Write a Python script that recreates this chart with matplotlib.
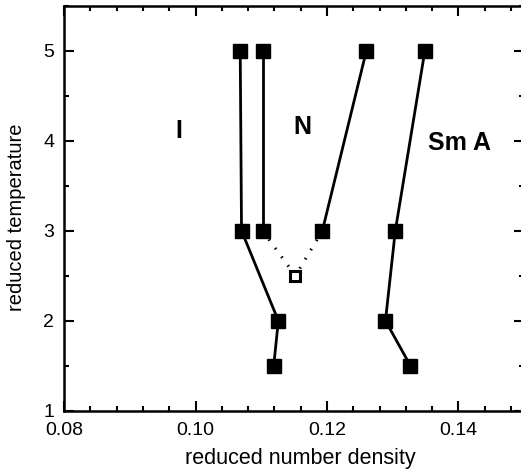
import matplotlib.pyplot as plt
from matplotlib.ticker import MultipleLocator

plt.rcParams['font.family'] = ['Liberation Sans', 'DejaVu Sans']

# phase boundaries: reduced number density vs reduced temperature
left_x = [0.1068, 0.1070, 0.1126, 0.1119]
left_y = [5, 3, 2, 1.5]

mid_x = [0.1102, 0.1102]
mid_y = [5, 3]

right_n_x = [0.1260, 0.1193]
right_n_y = [5, 3]

sma_x = [0.1349, 0.1304, 0.1289, 0.1327]
sma_y = [5, 3, 2, 1.5]

# dotted branch through the open point
dot_x = [0.1102, 0.1152, 0.1193]
dot_y = [3, 2.5, 3]

labels = ['I', 'N', 'Sm A']
label_x = [0.0975, 0.1162, 0.1402]
label_y = [4.11, 4.15, 3.97]

fig = plt.figure(figsize=(5.21, 4.70), dpi=100)
ax = fig.add_axes([0.123, 0.126, 0.883, 0.862])

ax.plot(dot_x, dot_y, color='black', lw=2.2, ls=(0, (0.5, 3.0)), zorder=1)
ax.plot([dot_x[1]], [dot_y[1]], 's', ms=7, mfc='white', mec='black', mew=2.2, zorder=3)

for xs, ys in [(left_x, left_y), (mid_x, mid_y), (right_n_x, right_n_y), (sma_x, sma_y)]:
    ax.plot(xs, ys, '-s', color='black', lw=2, ms=9.5, zorder=2)

for t, x, y in zip(labels, label_x, label_y):
    ax.text(x, y, t, fontsize=18, fontweight='bold', ha='center', va='center')

ax.set_xlim(0.08, 0.15)
ax.set_ylim(1, 5.5)
ax.xaxis.set_major_locator(MultipleLocator(0.02))
ax.xaxis.set_minor_locator(MultipleLocator(0.004))
ax.yaxis.set_major_locator(MultipleLocator(1))
ax.yaxis.set_minor_locator(MultipleLocator(0.5))
ax.set_xticks([0.08, 0.10, 0.12, 0.14])
ax.set_xticklabels(['0.08', '0.10', '0.12', '0.14'])

ax.tick_params(which='both', direction='in', top=True, right=True, width=1.5, labelsize=14)
ax.tick_params(which='major', length=7)
ax.tick_params(which='minor', length=3.5)
ax.tick_params(axis='x', pad=8)
ax.tick_params(axis='y', pad=7)
for s in ax.spines.values():
    s.set_linewidth(1.8)

ax.set_xlabel('reduced number density', fontsize=15.5)
ax.set_ylabel('reduced temperature', fontsize=14.5)
ax.xaxis.set_label_coords(0.513, -0.091)
ax.yaxis.set_label_coords(-0.083, 0.477)

fig.savefig('out.png', dpi=100)
